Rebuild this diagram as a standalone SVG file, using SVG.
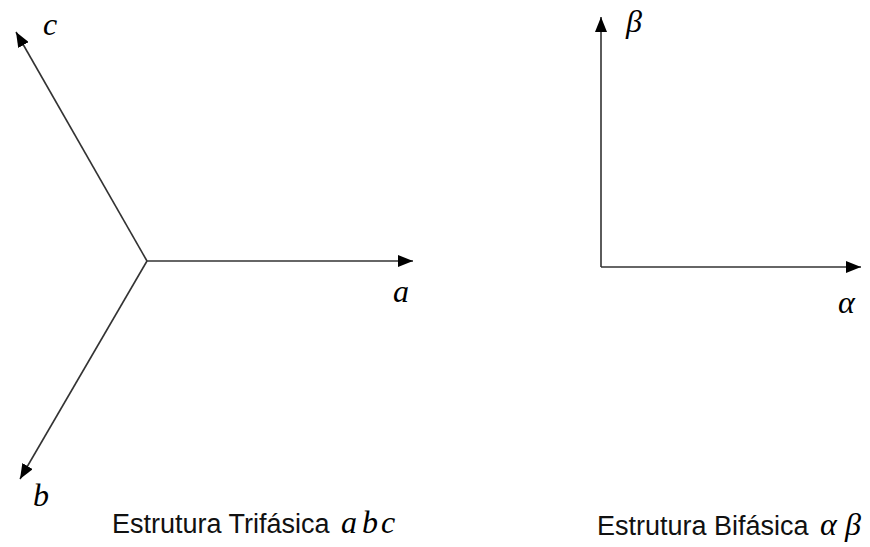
<svg xmlns="http://www.w3.org/2000/svg" width="870" height="547" viewBox="0 0 870 547">
<style>
.ax{stroke:#333;stroke-width:1.6;fill:none;marker-end:url(#ah)}
.m{font-family:"Liberation Serif","DejaVu Serif",serif;font-style:italic;font-size:32px;fill:#000}
.t{font-family:"Liberation Sans",Arial,sans-serif;font-size:27px;fill:#111}
</style>
<defs>
<marker id="ah" markerUnits="userSpaceOnUse" markerWidth="16" markerHeight="12" refX="15" refY="6" orient="auto">
<path d="M0,0 L15,6 L0,12 z" fill="#000"/>
</marker>
</defs>
<rect width="870" height="547" fill="#fff"/>
<g id="connectors">
<line class="ax" x1="147" y1="261" x2="413" y2="261"/>
<line class="ax" x1="147" y1="261" x2="16" y2="32"/>
<line class="ax" x1="147" y1="261" x2="20" y2="479"/>
<line class="ax" x1="601" y1="267" x2="861" y2="267"/>
<line class="ax" x1="601" y1="267" x2="601" y2="17"/>
</g>
<g id="label-c"><text class="m" x="43" y="35">c</text></g>
<g id="label-a"><text class="m" x="393" y="302">a</text></g>
<g id="label-b"><text class="m" x="33" y="506">b</text></g>
<g id="label-beta"><text class="m" x="626" y="32">β</text></g>
<g id="label-alpha"><text class="m" x="838" y="313">α</text></g>
<g id="caption-abc">
<text class="t" x="112" y="533">Estrutura Trifásica</text>
<text class="m" x="341" y="533">a</text>
<text class="m" x="362" y="533">b</text>
<text class="m" x="381" y="533">c</text>
</g>
<g id="caption-ab">
<text class="t" x="597" y="535">Estrutura Bifásica</text>
<text class="m" x="820" y="535">α</text>
<text class="m" x="845" y="535">β</text>
</g>
</svg>
